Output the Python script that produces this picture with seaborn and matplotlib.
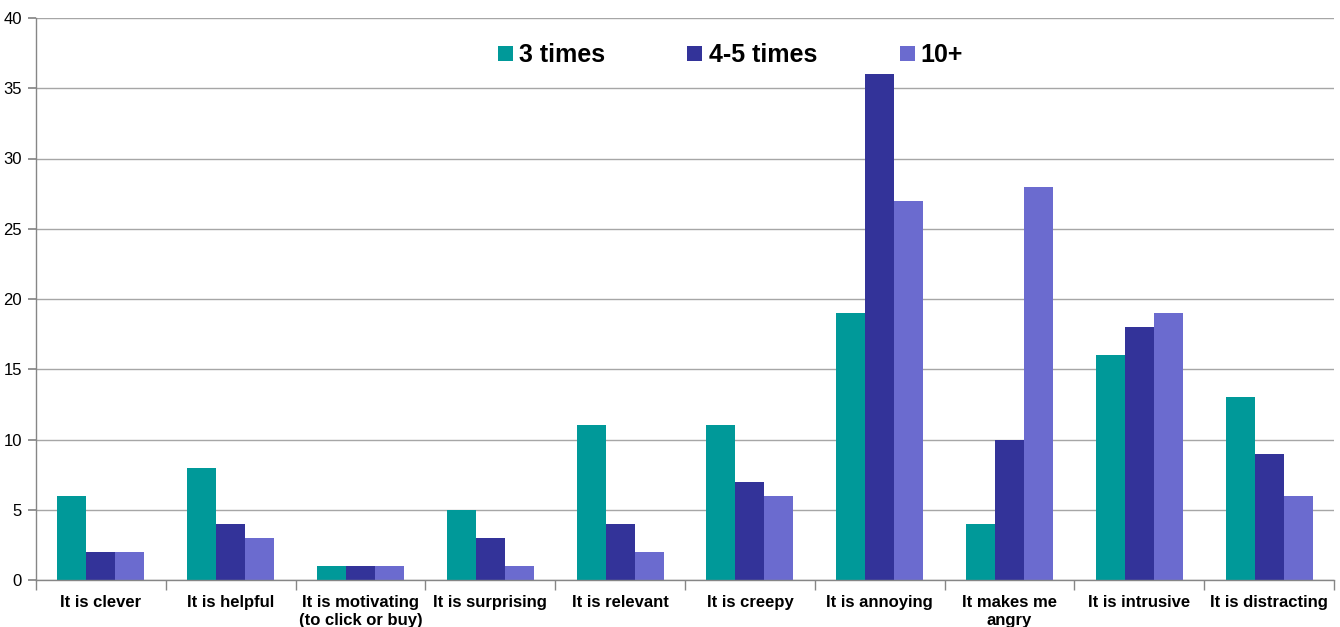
import matplotlib
matplotlib.use("Agg")
import matplotlib.pyplot as plt
from matplotlib.ticker import FixedLocator, MultipleLocator
import seaborn as sns
import pandas as pd

categories = [
    "It is clever", "It is helpful", "It is motivating\n(to click or buy)",
    "It is surprising", "It is relevant", "It is creepy", "It is annoying",
    "It makes me\nangry", "It is intrusive", "It is distracting",
]
series_names = ["3 times", "4-5 times", "10+"]
three_times = [6, 8, 1, 5, 11, 11, 19, 4, 16, 13]
four_five_times = [2, 4, 1, 3, 4, 7, 36, 10, 18, 9]
ten_plus = [2, 3, 1, 1, 2, 6, 27, 28, 19, 6]
colors = ["#009999", "#333399", "#6B6BCF"]

rows = []
for name, vals in zip(series_names, [three_times, four_five_times, ten_plus]):
    for cat, v in zip(categories, vals):
        rows.append({"category": cat, "series": name, "value": v})
df = pd.DataFrame(rows)

sns.set_theme(style="white")
plt.rcParams["font.family"] = ["Liberation Sans", "DejaVu Sans"]
plt.rcParams["text.color"] = "black"

fig = plt.figure(figsize=(13.4, 6.27), dpi=100)
ax = fig.add_axes([36 / 1340, 1 - 580 / 627, (1334 - 36) / 1340, (580 - 18) / 627])

sns.barplot(data=df, x="category", y="value", hue="series", order=categories,
            hue_order=series_names, palette=colors, width=0.67, saturation=1,
            linewidth=0, ax=ax)

ax.set_xlim(-0.5, len(categories) - 0.5)
ax.set_ylim(0, 40)
ax.yaxis.set_major_locator(MultipleLocator(5))
ax.yaxis.grid(True, color="#A6A6A6", linewidth=1)
ax.set_axisbelow(True)
ax.set_xlabel("")
ax.set_ylabel("")

for side in ["top", "right"]:
    ax.spines[side].set_visible(False)
for side in ["left", "bottom"]:
    ax.spines[side].set_color("#868686")
    ax.spines[side].set_linewidth(1)

ax.tick_params(axis="y", which="major", left=True, length=6, color="#868686",
               labelsize=12, labelcolor="black", pad=4)
ax.tick_params(axis="x", which="major", bottom=False, length=0, pad=11,
               labelcolor="black")
ax.xaxis.set_minor_locator(FixedLocator([i - 0.5 for i in range(len(categories) + 1)]))
ax.tick_params(axis="x", which="minor", bottom=True, length=7, color="#868686")
for lbl in ax.get_xticklabels():
    lbl.set_fontweight("bold")
    lbl.set_fontsize(12)
    lbl.set_linespacing(1.25)

handles, labels = ax.get_legend_handles_labels()
leg = ax.legend(handles, labels, loc="upper center", bbox_to_anchor=(0.535, 0.995),
                ncol=3, frameon=False, handlelength=0.6, handleheight=0.6,
                handletextpad=0.25, columnspacing=3.3,
                prop={"weight": "bold", "size": 18})
for t in leg.get_texts():
    t.set_color("black")

fig.savefig("out.png", dpi=100)
